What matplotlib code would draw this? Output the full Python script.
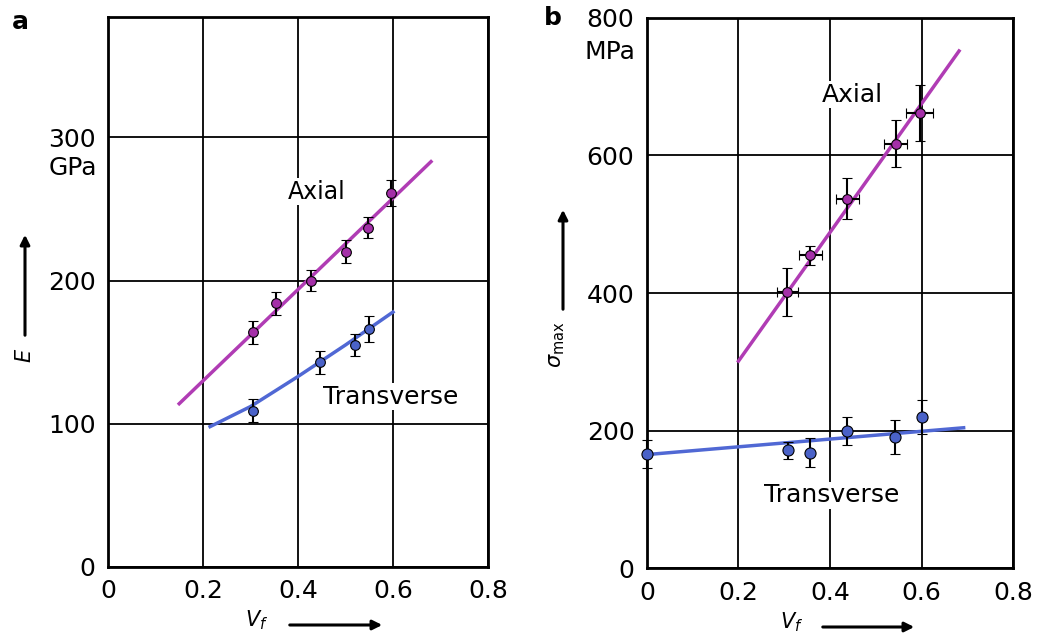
import matplotlib
matplotlib.use("Agg")
import matplotlib.pyplot as plt

# panel a: Young's modulus vs fibre volume fraction
a_axial_vf = [0.305, 0.354, 0.428, 0.502, 0.548, 0.595]
a_axial_E = [164, 184, 200, 220, 237, 261]
a_axial_err = [8, 8, 7, 8, 7, 9]
a_axial_fit_vf = [0.15, 0.68]
a_axial_fit_E = [114, 283]

a_trans_vf = [0.305, 0.446, 0.52, 0.55]
a_trans_E = [109, 143, 155, 166]
a_trans_err = [8, 8, 8, 9]
a_trans_fit_vf = [0.215, 0.30, 0.40, 0.50, 0.60]
a_trans_fit_E = [98, 112, 133, 155, 178]

# panel b: strength vs fibre volume fraction
b_axial_vf = [0.307, 0.357, 0.438, 0.544, 0.596]
b_axial_s = [402, 455, 537, 617, 662]
b_axial_yerr = [35, 14, 30, 34, 41]
b_axial_xerr = [0.022, 0.025, 0.025, 0.025, 0.03]
b_axial_fit_vf = [0.2, 0.682]
b_axial_fit_s = [301, 752]

b_trans_vf = [0.0, 0.309, 0.357, 0.438, 0.543, 0.6]
b_trans_s = [166, 171, 168, 199, 191, 220]
b_trans_err = [20, 13, 21, 20, 25, 25]
b_trans_fit_vf = [0.0, 0.692]
b_trans_fit_s = [165, 204]

x_ticks = [0, 0.2, 0.4, 0.6, 0.8]
x_labels = ["0", "0.2", "0.4", "0.6", "0.8"]
a_y_ticks = [0, 100, 200, 300]
b_y_ticks = [0, 200, 400, 600, 800]

MAG = "#b03cb4"
MAG_PT = "#a42fa8"
BLUE = "#5068d4"
BLUE_PT = "#4a62c8"
FS = 18

plt.rcParams["font.family"] = "DejaVu Sans"

fig = plt.figure(figsize=(10.37, 6.38), dpi=100)
ax_a = fig.add_axes([0.1041, 0.1113, 0.3665, 0.8621])
ax_b = fig.add_axes([0.6239, 0.1097, 0.3530, 0.8621])


def style(ax, yticks, ylim):
    ax.set_xlim(0, 0.8)
    ax.set_ylim(*ylim)
    ax.set_xticks(x_ticks)
    ax.set_xticklabels(x_labels)
    ax.set_yticks(yticks)
    ax.set_yticklabels([str(v) for v in yticks])
    ax.tick_params(length=0, labelsize=FS, pad=9)
    ax.grid(True, color="black", linewidth=1.3)
    ax.set_axisbelow(True)
    for s in ax.spines.values():
        s.set_linewidth(2)


style(ax_a, a_y_ticks, (0, 384))
style(ax_b, b_y_ticks, (0, 800))

# panel a
ax_a.plot(a_axial_fit_vf, a_axial_fit_E, color=MAG, lw=2.5, zorder=3)
ax_a.plot(a_trans_fit_vf, a_trans_fit_E, color=BLUE, lw=2.5, zorder=3)
ax_a.errorbar(a_axial_vf, a_axial_E, yerr=a_axial_err, fmt="o", ms=7,
              mfc=MAG_PT, mec="black", mew=0.8, ecolor="black",
              elinewidth=1.5, capsize=3.5, capthick=1.8, zorder=4)
ax_a.errorbar(a_trans_vf, a_trans_E, yerr=a_trans_err, fmt="o", ms=7,
              mfc=BLUE_PT, mec="black", mew=0.8, ecolor="black",
              elinewidth=1.5, capsize=3.5, capthick=1.8, zorder=4)
box = dict(facecolor="white", edgecolor="none", pad=1)
ax_a.text(0.44, 262, "Axial", fontsize=17, ha="center", va="center",
          bbox=box, zorder=2)
ax_a.text(0.596, 119, "Transverse", fontsize=FS, ha="center", va="center",
          bbox=box, zorder=2)

# panel b
ax_b.plot(b_axial_fit_vf, b_axial_fit_s, color=MAG, lw=2.5, zorder=3)
ax_b.plot(b_trans_fit_vf, b_trans_fit_s, color=BLUE, lw=2.5, zorder=3)
ax_b.errorbar(b_axial_vf, b_axial_s, yerr=b_axial_yerr, xerr=b_axial_xerr,
              fmt="o", ms=7, mfc=MAG_PT, mec="black", mew=0.8,
              ecolor="black", elinewidth=1.5, capsize=3.5, capthick=1.8,
              zorder=4)
ax_b.errorbar(b_trans_vf, b_trans_s, yerr=b_trans_err, fmt="o", ms=8,
              mfc=BLUE_PT, mec="black", mew=0.8, ecolor="black",
              elinewidth=1.5, capsize=3.5, capthick=1.8, zorder=4,
              clip_on=False)
ax_b.text(0.449, 688, "Axial", fontsize=FS, ha="center", va="center",
          bbox=box, zorder=2)
ax_b.text(0.404, 106, "Transverse", fontsize=FS, ha="center", va="center",
          bbox=box, zorder=2)

# units under top tick labels
fig.text(97 / 1037, 1 - 168 / 638, "GPa", fontsize=FS, ha="right", va="center")
fig.text(635 / 1037, 1 - 52 / 638, "MPa", fontsize=FS, ha="right", va="center")

# panel letters
fig.text(20 / 1037, 1 - 22 / 638, "a", fontsize=FS, fontweight="bold",
         ha="center", va="center")
fig.text(553 / 1037, 1 - 18 / 638, "b", fontsize=FS, fontweight="bold",
         ha="center", va="center")

# axis labels with arrows
arrow = dict(arrowstyle="-|>", color="black", lw=2.2, mutation_scale=14)


def fx(px):
    return px / 1037


def fy(py):
    return 1 - py / 638


fig.add_artist(matplotlib.patches.FancyArrowPatch(
    (fx(25), fy(338)), (fx(25), fy(232)), transform=fig.transFigure, **arrow))
fig.text(fx(25), fy(355), "$E$", fontsize=15, rotation=90,
         ha="center", va="center")

fig.add_artist(matplotlib.patches.FancyArrowPatch(
    (fx(563), fy(312)), (fx(563), fy(207)), transform=fig.transFigure, **arrow))
fig.text(fx(557), fy(345), r"$\sigma_{\mathrm{max}}$", fontsize=15,
         rotation=90, ha="center", va="center")

fig.add_artist(matplotlib.patches.FancyArrowPatch(
    (fx(287), fy(625)), (fx(385), fy(625)), transform=fig.transFigure, **arrow))
fig.text(fx(257), fy(620), "$V_f$", fontsize=15, ha="center", va="center")

fig.add_artist(matplotlib.patches.FancyArrowPatch(
    (fx(820), fy(627)), (fx(917), fy(627)), transform=fig.transFigure, **arrow))
fig.text(fx(792), fy(622), "$V_f$", fontsize=15, ha="center", va="center")

fig.savefig("out.png", dpi=100)
